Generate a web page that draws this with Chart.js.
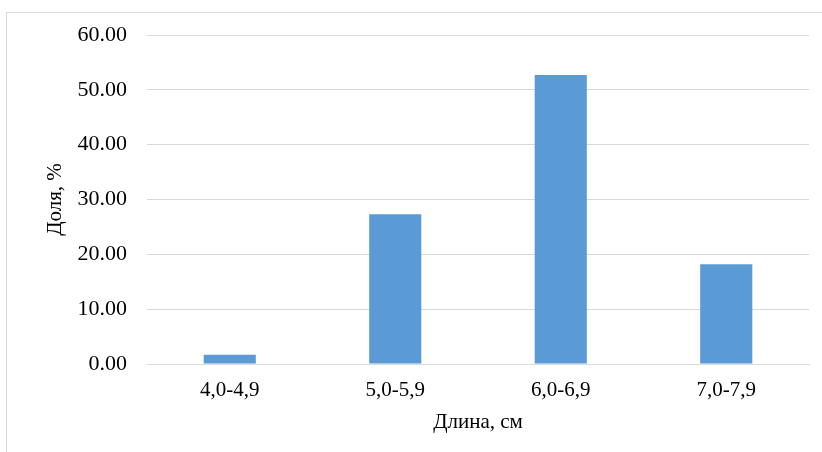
<!DOCTYPE html>
<html>
<head>
<meta charset="utf-8">
<script src="https://cdn.jsdelivr.net/npm/chart.js@4/dist/chart.umd.min.js"></script>
<style>
    body { margin: 0; background: #fff; }
    #cadre { position: relative; width: 822px; height: 452px; overflow: hidden; }
    #bordure { position: absolute; left: 6px; top: 12px; width: 830px; height: 460px; border: 1px solid #d9d9d9; }
    #graphique { position: absolute; left: 0; top: 0; }
</style>
</head>
<body>
<div id="cadre">
    <div id="bordure"></div>
    <canvas id="graphique" width="822" height="452"></canvas>
</div>
<script>
const categories = ['4,0-4,9', '5,0-5,9', '6,0-6,9', '7,0-7,9'];
const doles = [1.7, 27.3, 52.7, 18.2];
const yMin = 0;
const yMax = 60;
const yPas = 10;

const police = "'Liberation Serif', 'Times New Roman', serif";

new Chart(document.getElementById('graphique'), {
    type: 'bar',
    data: {
        labels: categories,
        datasets: [{
            data: doles,
            backgroundColor: '#5B9BD5',
            categoryPercentage: 1,
            barPercentage: 0.315
        }]
    },
    options: {
        responsive: false,
        animation: false,
        layout: {
            padding: { left: 30, right: 13, top: 35, bottom: 0 }
        },
        plugins: {
            legend: { display: false },
            tooltip: { enabled: false }
        },
        scales: {
            x: {
                grid: { display: false },
                border: { display: true, color: '#d9d9d9', width: 1 },
                ticks: {
                    color: '#000',
                    font: { family: police, size: 21 },
                    padding: 6
                },
                title: {
                    display: true,
                    text: 'Длина, см',
                    color: '#000',
                    font: { family: police, size: 21 },
                    padding: { top: 4, bottom: 17 }
                },
                afterFit: function (axe) { axe.height = 88; }
            },
            y: {
                min: yMin,
                max: yMax,
                grid: { color: '#d9d9d9', lineWidth: 1, drawTicks: false },
                border: { display: false },
                ticks: {
                    stepSize: yPas,
                    color: '#000',
                    font: { family: police, size: 22 },
                    padding: 20,
                    callback: function (v) { return v.toFixed(2); }
                },
                title: {
                    display: true,
                    text: 'Доля, %',
                    color: '#000',
                    font: { family: police, size: 21 },
                    padding: { top: 13, bottom: 0 }
                },
                afterFit: function (axe) { axe.width = 117; }
            }
        }
    }
});
</script>
</body>
</html>
